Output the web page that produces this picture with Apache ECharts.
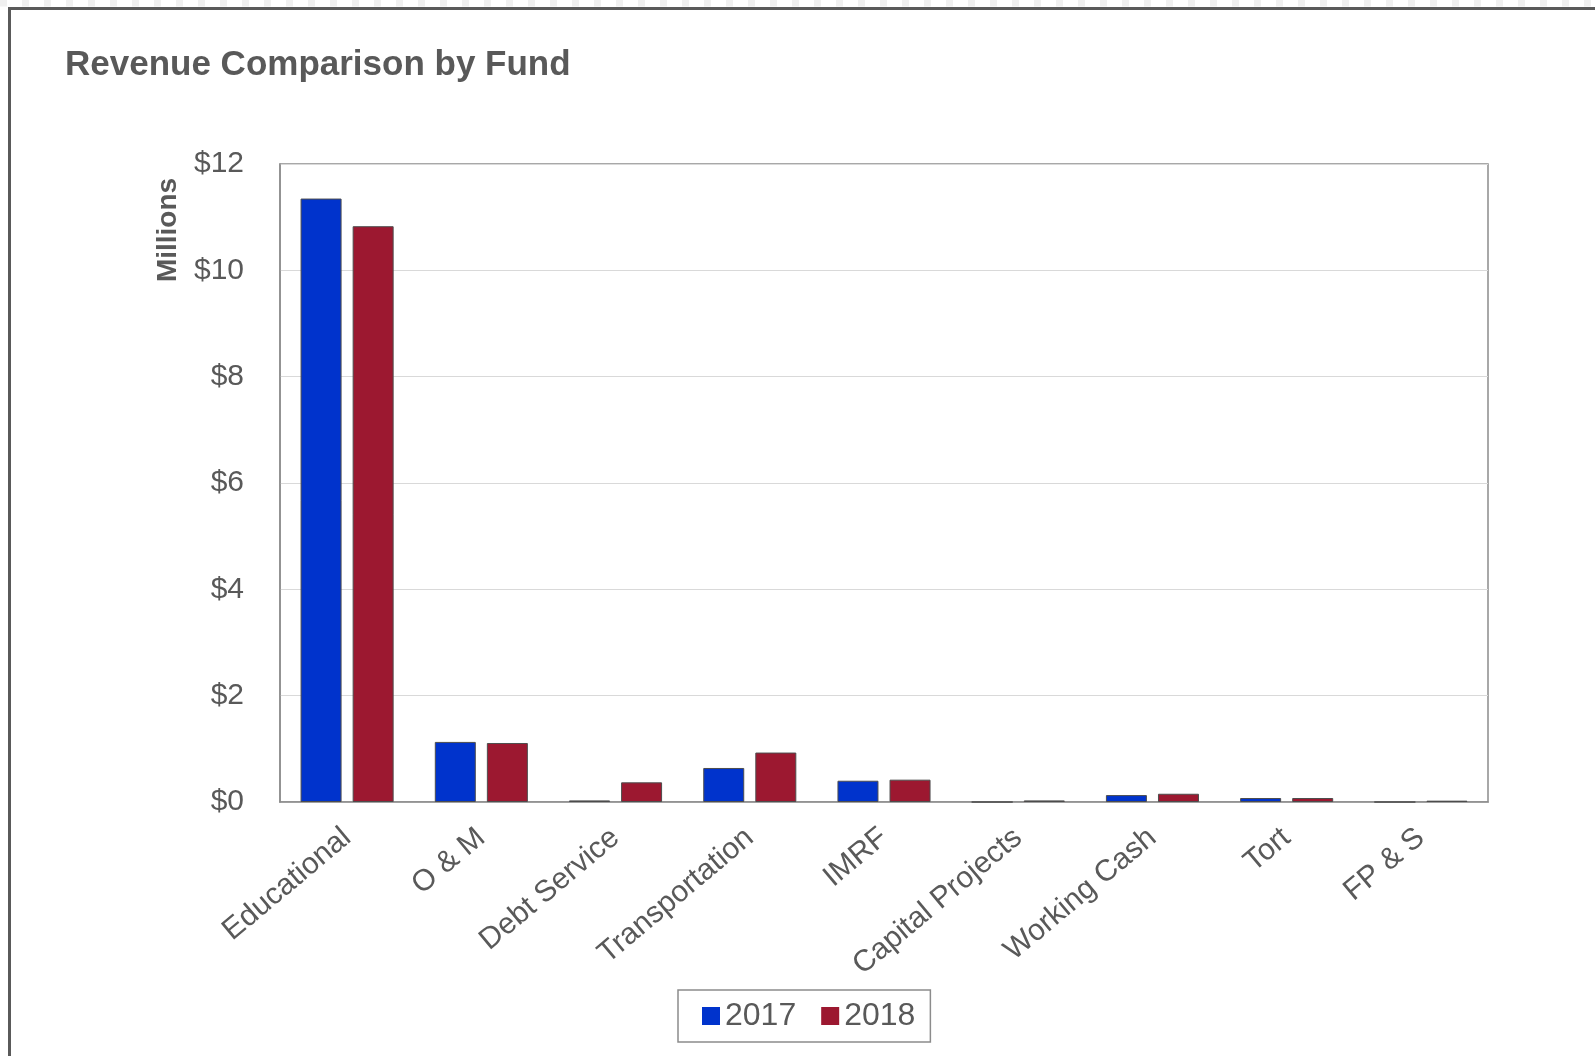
<!DOCTYPE html>
<html>
<head>
<meta charset="utf-8">
<title>Revenue Comparison by Fund</title>
<script src="https://cdn.jsdelivr.net/npm/echarts@6/dist/echarts.min.js"></script>
<style>
  html, body { margin: 0; padding: 0; background: #ffffff; }
  #chart { width: 1595px; height: 1056px; }
</style>
</head>
<body>
<div id="chart"></div>
<script>
// Fund categories and revenue (in millions of dollars)
const funds = ['Educational', 'O & M', 'Debt Service', 'Transportation', 'IMRF',
               'Capital Projects', 'Working Cash', 'Tort', 'FP & S'];
const revenue2017 = [11.35, 1.13, 0.03, 0.64, 0.40, 0, 0.13, 0.075, 0];
const revenue2018 = [10.83, 1.11, 0.37, 0.93, 0.42, 0.03, 0.155, 0.075, 0.025];
const seriesNames = ['2017', '2018'];
const yTicks = { min: 0, max: 12, interval: 2 };

const FONT = '"Liberation Sans", Arial, sans-serif';
const TEXT = '#595959';

const chart = echarts.init(document.getElementById('chart'), null, { renderer: 'canvas' });

chart.setOption({
  backgroundColor: '#ffffff',
  animation: false,
  title: {
    text: 'Revenue Comparison by Fund',
    left: 60,
    top: 43,
    textStyle: { fontFamily: FONT, fontSize: 35, fontWeight: 'bold', color: TEXT }
  },
  graphic: [
    {
      // faint dotted band along the top edge
      type: 'line',
      shape: { x1: 0, y1: 3, x2: 1595, y2: 3 },
      style: { stroke: '#f0f0f0', lineWidth: 7, lineDash: [7, 15] },
      silent: true
    },
    {
      // outer frame (open to the right and bottom)
      type: 'rect',
      shape: { x: 9.5, y: 8.5, width: 1700, height: 1200 },
      style: { fill: 'none', stroke: '#5a5a5a', lineWidth: 3 },
      silent: true
    },
    {
      type: 'text',
      x: 168,
      y: 230,
      rotation: Math.PI / 2,
      style: {
        text: 'Millions',
        fontFamily: FONT,
        fontSize: 28,
        fontWeight: 'bold',
        fill: TEXT,
        align: 'center',
        verticalAlign: 'middle'
      },
      silent: true
    }
  ],
  legend: {
    data: seriesNames,
    left: 678,
    top: 990,
    orient: 'horizontal',
    icon: 'rect',
    itemWidth: 18,
    itemHeight: 18,
    itemGap: 25,
    itemTextGap: 6,
    padding: [10, 15, 10, 24],
    borderColor: '#8c8c8c',
    borderWidth: 1.5,
    itemStyle: { borderWidth: 0 },
    textStyle: { fontFamily: FONT, fontSize: 32, color: TEXT }
  },
  grid: {
    left: 280,
    top: 164,
    right: 107,
    bottom: 254,
    show: true,
    borderColor: '#8c8c8c',
    borderWidth: 1.5,
    containLabel: false
  },
  xAxis: {
    type: 'category',
    data: funds,
    axisLine: { show: true, lineStyle: { color: '#8c8c8c', width: 1.5 } },
    axisTick: { show: false },
    axisLabel: {
      rotate: 40,
      margin: 32,
      interval: 0,
      fontFamily: FONT,
      fontSize: 30,
      color: TEXT
    }
  },
  yAxis: {
    type: 'value',
    min: yTicks.min,
    max: yTicks.max,
    interval: yTicks.interval,
    axisLine: { show: true, lineStyle: { color: '#8c8c8c', width: 1.5 } },
    axisTick: { show: false },
    splitLine: { show: true, lineStyle: { color: '#d9d9d9', width: 1 } },
    axisLabel: {
      margin: 36,
      fontFamily: FONT,
      fontSize: 30,
      color: TEXT,
      formatter: v => '$' + v
    }
  },
  series: [
    {
      name: seriesNames[0],
      type: 'bar',
      data: revenue2017,
      barWidth: 41,
      barGap: '27%',
      itemStyle: { color: '#0033CC', borderColor: '#4d4d4d', borderWidth: 1 }
    },
    {
      name: seriesNames[1],
      type: 'bar',
      data: revenue2018,
      barWidth: 41,
      barGap: '27%',
      itemStyle: { color: '#9C1830', borderColor: '#4d4d4d', borderWidth: 1 }
    }
  ]
});
</script>
</body>
</html>
